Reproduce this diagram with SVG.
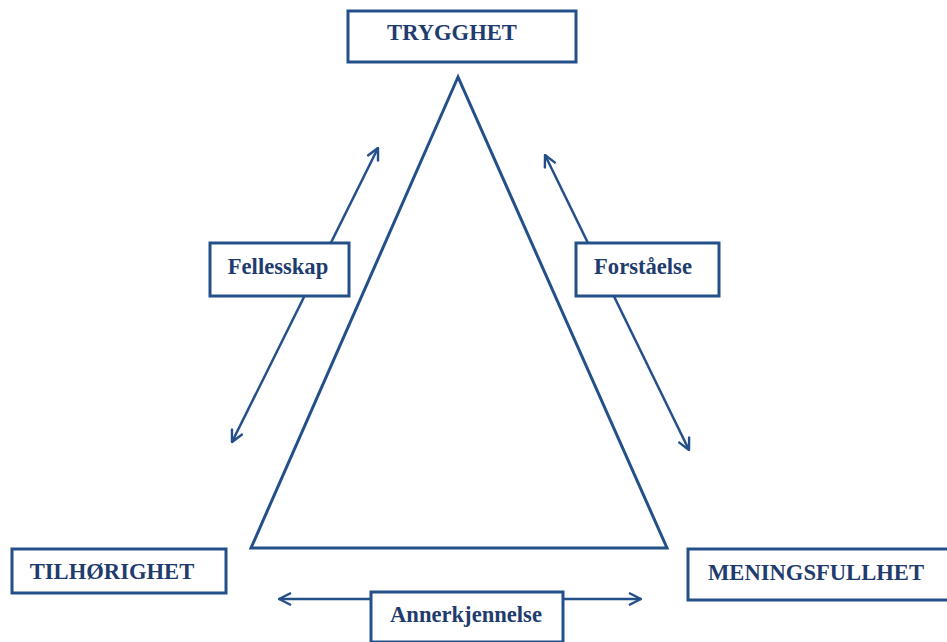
<svg xmlns="http://www.w3.org/2000/svg" width="947" height="642" viewBox="0 0 947 642">
<style>
.box{fill:#fff;stroke:#24508a;stroke-width:3}
.lbl{font-family:"Liberation Serif",serif;font-weight:bold;font-size:22.6px;fill:#1f3c6e}
.con{stroke:#24508a;stroke-width:2.5;fill:none}
</style>
<defs>
<marker id="ah" viewBox="0 0 14 14" refX="13" refY="7" markerWidth="14" markerHeight="14" markerUnits="userSpaceOnUse" orient="auto-start-reverse">
<path d="M1,1 L13,7 L1,13" fill="none" stroke="#24508a" stroke-width="2.4"/>
</marker>
</defs>
<rect width="947" height="642" fill="#fff"/>
<g id="triangle">
<polygon points="458,77 251,548 667,548" fill="none" stroke="#24508a" stroke-width="3"/>
</g>
<g id="connectors">
<line class="con" x1="378" y1="148" x2="232" y2="442" marker-start="url(#ah)" marker-end="url(#ah)"/>
<line class="con" x1="545" y1="155" x2="689" y2="450" marker-start="url(#ah)" marker-end="url(#ah)"/>
<line class="con" x1="279" y1="599" x2="641" y2="599" marker-start="url(#ah)" marker-end="url(#ah)"/>
</g>
<g id="trygghet">
<rect class="box" x="348" y="11" width="228" height="51"/>
<text class="lbl" x="452" y="40" text-anchor="middle">TRYGGHET</text>
</g>
<g id="fellesskap">
<rect class="box" x="210" y="243" width="139" height="53"/>
<text class="lbl" x="278" y="274" text-anchor="middle">Fellesskap</text>
</g>
<g id="forstaelse">
<rect class="box" x="576" y="243" width="143" height="53"/>
<text class="lbl" x="643" y="274" text-anchor="middle">Forståelse</text>
</g>
<g id="tilhorighet">
<rect class="box" x="12" y="549" width="214" height="44"/>
<text class="lbl" x="112" y="579" text-anchor="middle">TILHØRIGHET</text>
</g>
<g id="annerkjennelse">
<rect class="box" x="371" y="592" width="192" height="50"/>
<text class="lbl" x="466" y="622" text-anchor="middle">Annerkjennelse</text>
</g>
<g id="meningsfullhet">
<rect class="box" x="688" y="549" width="270" height="51"/>
<text class="lbl" x="816" y="580" text-anchor="middle">MENINGSFULLHET</text>
</g>
</svg>
